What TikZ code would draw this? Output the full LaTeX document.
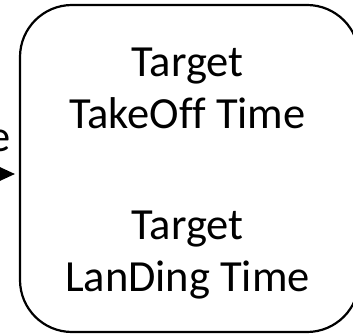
\documentclass[tikz,border=0pt]{standalone}
\usepackage{fontspec}
\setmainfont{Carlito}[Ligatures=NoCommon]
\usetikzlibrary{arrows.meta}
\begin{document}
\begin{tikzpicture}[x=1pt,y=1pt,
  boxframe/.style={draw=black, line width=2.2pt, rounded corners=52pt,
    rectangle, inner sep=0pt, outer sep=0pt,
    minimum width=339pt, minimum height=327pt},
  label/.style={font=\fontsize{44.5}{52}\selectfont, inner sep=0pt, anchor=base},
  feed/.style={draw=black, line width=2.2pt,
    -{Triangle[length=17pt,width=15pt]}}]
  \useasboundingbox (0,0) rectangle (353,335);
  \clip (0,0) rectangle (353,335);
  % main rounded box
  \node[boxframe] (box) at (189.5,166.5) {};
  % text lines inside the box
  \node[label] (t1) at (187.5,258) {Target};
  \node[label] (t2) at (187.5,206) {TakeOff Time};
  \node[label] (t3) at (187.5,96) {Target};
  \node[label] (t4) at (187.5,44) {LanDing Time};
  % incoming connector and the tail of its label
  \node[font=\fontsize{44.5}{52}\selectfont, inner sep=0pt, anchor=base east]
    (inlabel) at (11,183) {e};
  \coordinate (src) at (-40,161);
  \draw[feed, shorten >=5pt] (src) -- (src -| box.west);
\end{tikzpicture}
\end{document}
